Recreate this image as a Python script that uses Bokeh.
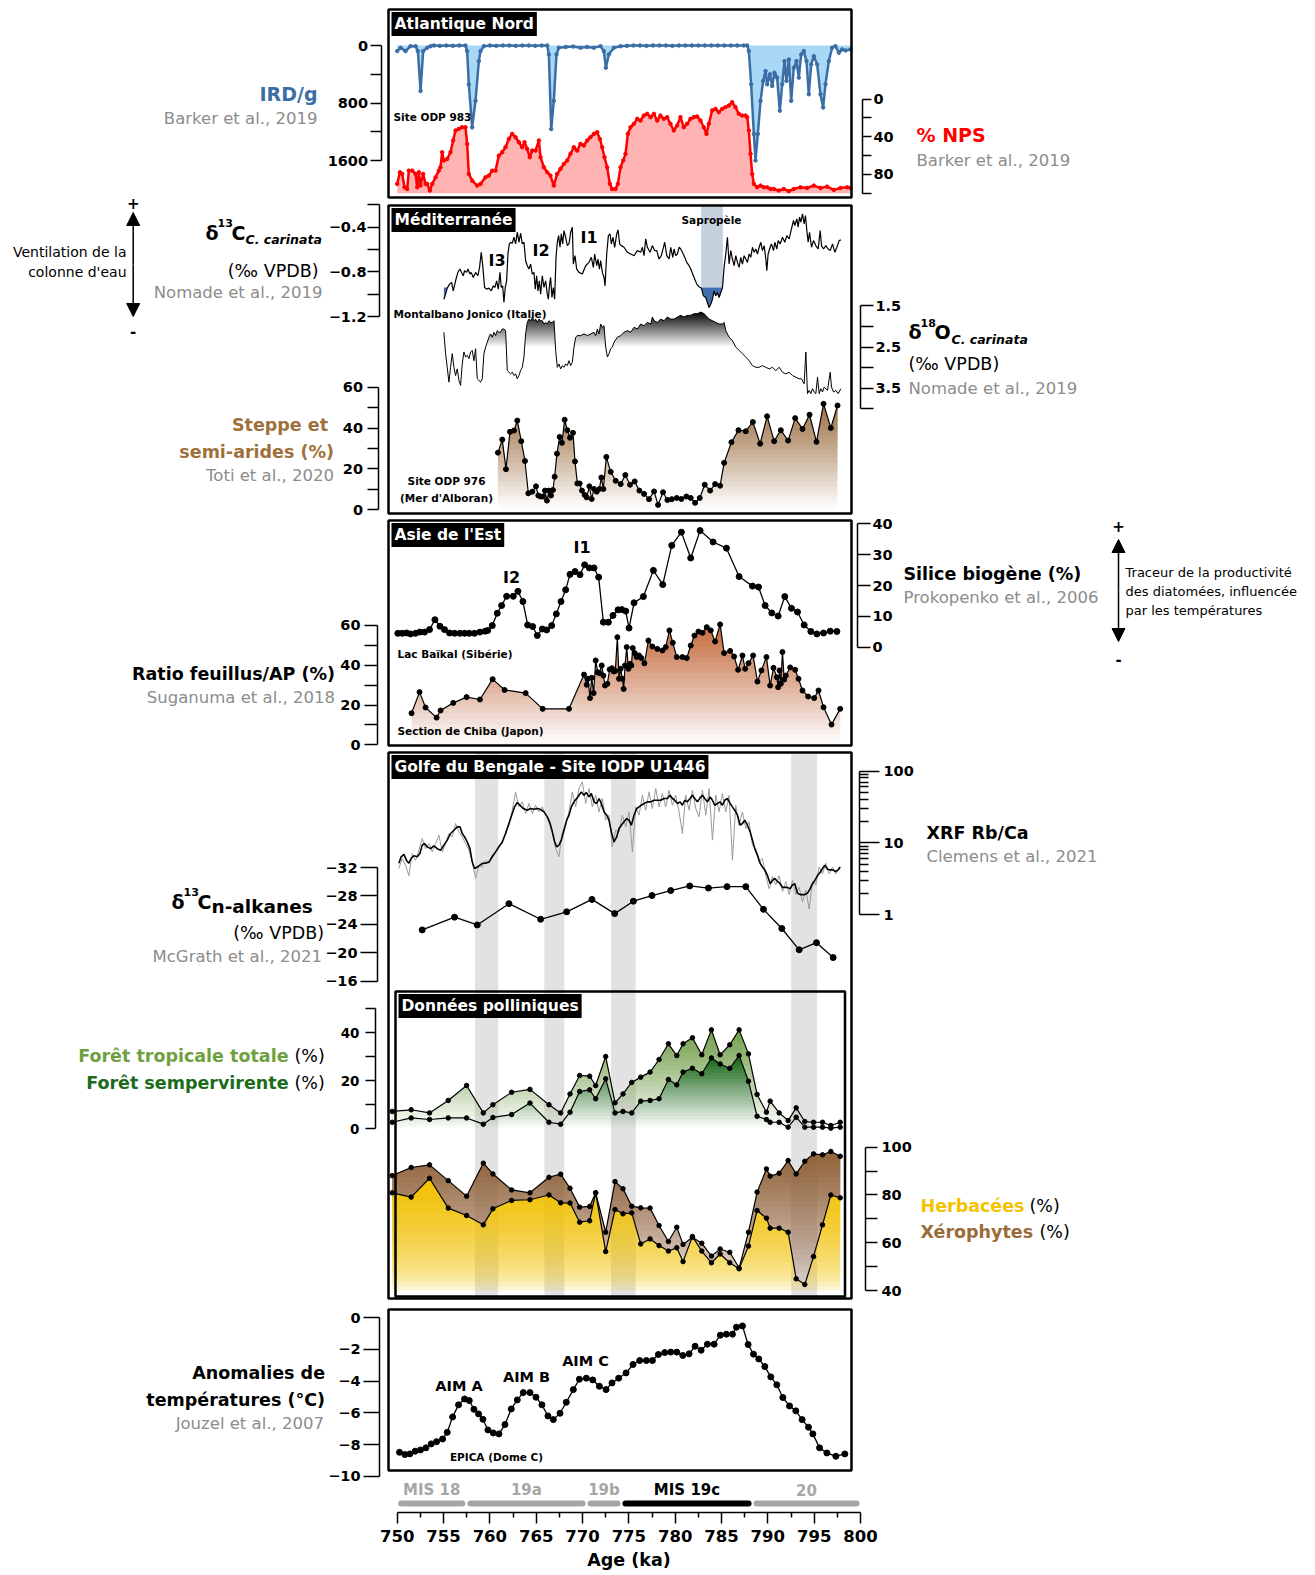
import numpy as np
from bokeh.plotting import figure
from bokeh.models import (Range1d, LinearAxis, LogAxis, LogScale, FixedTicker, Label,
                          BoxAnnotation, Arrow, NormalHead, BasicTickFormatter)
from bokeh.embed import file_html
from bokeh.resources import INLINE

# ------------------------------------------------------------------ data (age in ka, value)
ird = [(750.0, 78), (750.36, 32), (750.9, 78), (751.44, 9), (751.98, 9), (752.23, 78), (752.52, 632),
       (752.8, 78), (753.24, 32), (753.6, 9), (753.96, 0), (754.6, 5), (755.3, 0), (756.0, 5), (756.7, 0),
       (757.37, 0), (757.55, 78), (757.73, 540), (758.09, 1139), (758.45, 770), (758.81, 217), (758.99, 78),
       (759.35, 9), (760.0, 0), (760.7, 5), (761.4, 0), (762.1, 0), (762.8, 5), (763.5, 0), (764.2, 0),
       (764.9, 5), (765.6, 0), (766.19, 0), (766.37, 124), (766.62, 1162), (766.9, 770), (767.19, 124),
       (767.44, 32), (768.2, 20), (769.0, 15), (769.78, 32), (770.5, 20), (771.22, 32), (771.94, 9),
       (772.3, 78), (772.52, 309), (772.84, 124), (773.38, 32), (774.1, 10), (774.8, 5), (775.5, 0),
       (776.2, 0), (776.9, 5), (777.6, 0), (778.3, 0), (779.0, 0), (779.7, 5), (780.4, 0), (781.1, 0),
       (781.8, 0), (782.5, 0), (783.2, 0), (783.9, 0), (784.6, 0), (785.3, 0), (786.0, 0), (786.7, 0),
       (787.4, 0), (787.77, 0), (787.95, 78), (788.2, 540), (788.49, 1231), (788.67, 1600), (788.92, 1231),
       (789.21, 770), (789.5, 493), (789.75, 355), (789.93, 540), (790.22, 401), (790.47, 562), (790.72, 378),
       (791.0, 447), (791.29, 908), (791.55, 540), (791.8, 217), (792.01, 493), (792.27, 194), (792.52, 770),
       (792.8, 309), (793.09, 217), (793.34, 447), (793.6, 124), (793.88, 78), (794.17, 217), (794.42, 678),
       (794.68, 263), (794.96, 148), (795.32, 263), (795.68, 678), (795.97, 862), (796.22, 540),
       (796.58, 217), (796.94, 32), (797.3, 9), (797.66, 101), (798.02, 55), (798.38, 69), (798.92, 55)]

nps = [(750.0, 90.2), (750.29, 77.8), (750.54, 79.6), (750.79, 93.8), (751.08, 95.6), (751.26, 76.1),
       (751.62, 76.1), (751.98, 79.6), (752.16, 93.8), (752.34, 77.8), (752.52, 92.0), (752.8, 79.6),
       (753.06, 90.2), (753.24, 90.2), (753.52, 97.3), (753.78, 90.2), (754.14, 83.2), (754.49, 76.1),
       (754.67, 72.5), (754.85, 56.6), (755.03, 65.4), (755.39, 63.7), (755.75, 56.6), (756.04, 44.1),
       (756.29, 33.5), (756.65, 31.7), (757.01, 30.0), (757.37, 30.0), (757.55, 47.7), (757.73, 79.6),
       (758.09, 86.7), (758.63, 92.0), (758.99, 90.2), (759.53, 83.2), (759.89, 81.4), (760.25, 76.1),
       (760.61, 76.1), (760.97, 60.1), (761.33, 56.6), (761.69, 51.2), (762.05, 42.4), (762.41, 37.1),
       (762.77, 40.6), (763.13, 45.9), (763.49, 51.2), (763.74, 45.9), (764.03, 53.0), (764.31, 61.9),
       (764.57, 54.8), (764.93, 54.8), (765.29, 44.1), (765.47, 61.9), (765.83, 72.5), (766.19, 77.8),
       (766.54, 81.4), (766.9, 92.0), (767.26, 79.6), (767.62, 74.3), (767.98, 69.0), (768.34, 65.4),
       (768.7, 58.3), (769.06, 51.2), (769.42, 54.8), (769.78, 47.7), (770.14, 49.4), (770.5, 44.1),
       (770.86, 40.6), (771.22, 37.1), (771.58, 35.3), (771.87, 42.4), (772.12, 51.2), (772.37, 61.9),
       (772.66, 72.5), (772.95, 90.2), (773.2, 95.6), (773.56, 95.6), (773.81, 90.2), (774.1, 72.5),
       (774.39, 65.4), (774.64, 58.3), (774.89, 37.1), (775.18, 30.0), (775.54, 26.4), (775.9, 21.1),
       (776.26, 22.9), (776.62, 17.6), (776.98, 15.8), (777.34, 19.3), (777.7, 15.8), (778.06, 22.9),
       (778.41, 17.6), (778.77, 21.1), (779.13, 19.3), (779.49, 26.4), (779.85, 33.5), (780.21, 28.2),
       (780.57, 19.3), (780.93, 30.0), (781.29, 26.4), (781.65, 21.1), (782.01, 19.3), (782.37, 18.6),
       (782.73, 22.9), (783.09, 30.0), (783.38, 37.1), (783.63, 26.4), (783.99, 12.2), (784.35, 10.5),
       (784.71, 14.0), (785.07, 10.5), (785.43, 8.7), (785.79, 6.9), (786.15, 3.4), (786.51, 8.7),
       (786.87, 15.8), (787.23, 17.6), (787.59, 17.6), (787.77, 19.3), (787.95, 33.5), (788.13, 58.3),
       (788.31, 79.6), (788.49, 90.2), (788.85, 93.8), (789.21, 92.0), (789.57, 93.8), (789.93, 93.8),
       (790.29, 95.6), (790.64, 95.6), (791.18, 97.3), (791.72, 95.6), (792.26, 98.0), (792.8, 95.6),
       (793.52, 93.8), (794.24, 94.5), (794.96, 92.0), (795.68, 94.5), (796.4, 93.1), (797.12, 96.6),
       (797.84, 94.5), (798.56, 93.8), (798.92, 94.5)]

d13c_carinata = [
    (755.04, -1.045), (755.22, -1.0), (755.4, -0.946), (755.65, -0.91), (755.87, -0.895), (756.05, -0.97),
    (756.3, -0.88), (756.55, -0.805), (756.77, -0.775), (756.95, -0.805), (757.13, -0.835), (757.27, -0.79),
    (757.49, -0.805), (757.63, -0.775), (757.85, -0.82), (757.99, -0.805), (758.21, -0.85), (758.46, -0.805),
    (758.71, -0.835), (758.89, -0.76), (759.07, -0.625), (759.25, -0.76), (759.43, -0.94), (759.65, -0.955),
    (759.9, -0.946), (760.15, -0.97), (760.37, -0.925), (760.55, -0.94), (760.73, -0.88), (760.91, -0.955),
    (761.09, -0.805), (761.23, -0.94), (761.38, -0.925), (761.52, -1.075), (761.66, -0.94), (761.81, -0.88),
    (761.95, -0.64), (762.1, -0.55), (762.24, -0.535), (762.42, -0.544), (762.6, -0.49), (762.78, -0.55),
    (762.96, -0.445), (763.14, -0.535), (763.32, -0.454), (763.5, -0.55), (763.68, -0.535), (763.86, -0.7),
    (764.04, -0.745), (764.22, -0.775), (764.4, -0.73), (764.58, -0.82), (764.76, -0.805), (764.9, -0.955),
    (765.05, -0.835), (765.19, -0.97), (765.34, -0.88), (765.48, -1.0), (765.66, -0.835), (765.84, -0.94),
    (766.02, -0.88), (766.2, -1.0), (766.31, -1.045), (766.45, -0.91), (766.56, -0.85), (766.7, -1.03),
    (766.85, -0.94), (766.99, -1.045), (767.14, -0.67), (767.28, -0.535), (767.42, -0.475), (767.57, -0.58),
    (767.71, -0.46), (767.86, -0.55), (768.0, -0.43), (768.18, -0.49), (768.36, -0.565), (768.54, -0.55),
    (768.72, -0.445), (768.9, -0.4), (769.01, -0.73), (769.19, -0.655), (769.37, -0.775), (769.62, -0.805),
    (769.98, -0.82), (770.34, -0.745), (770.7, -0.715), (770.95, -0.67), (771.17, -0.76), (771.31, -0.64),
    (771.53, -0.745), (771.67, -0.685), (771.82, -0.775), (771.96, -0.7), (772.14, -0.805), (772.32, -0.85),
    (772.43, -0.925), (772.61, -0.64), (772.79, -0.475), (772.97, -0.46), (773.11, -0.55), (773.29, -0.49),
    (773.47, -0.58), (773.69, -0.46), (773.83, -0.424), (774.01, -0.55), (774.19, -0.565), (774.48, -0.58),
    (774.84, -0.625), (775.2, -0.64), (775.56, -0.655), (775.92, -0.61), (776.28, -0.625), (776.46, -0.58),
    (776.64, -0.655), (776.82, -0.505), (777.0, -0.58), (777.29, -0.625), (777.54, -0.565), (777.79, -0.61),
    (778.01, -0.61), (778.26, -0.685), (778.51, -0.655), (778.73, -0.58), (778.87, -0.535), (779.09, -0.655),
    (779.34, -0.685), (779.52, -0.58), (779.74, -0.67), (779.88, -0.595), (780.06, -0.655), (780.24, -0.64),
    (780.42, -0.58), (780.6, -0.595), (780.96, -0.655), (781.25, -0.715), (781.5, -0.745), (781.68, -0.775),
    (782.04, -0.85), (782.33, -0.91), (782.58, -0.934), (782.83, -0.946), (783.05, -1.015), (783.3, -1.03),
    (783.48, -1.075), (783.66, -1.12), (783.84, -1.09), (784.02, -1.045), (784.2, -0.97), (784.38, -1.015),
    (784.56, -0.985), (784.74, -1.03), (784.92, -0.985), (785.1, -0.946), (785.28, -0.76), (785.46, -0.64),
    (785.64, -0.49), (785.82, -0.73), (786.0, -0.61), (786.18, -0.685), (786.36, -0.745), (786.54, -0.655),
    (786.72, -0.715), (786.9, -0.76), (787.08, -0.67), (787.26, -0.73), (787.44, -0.655), (787.62, -0.685),
    (787.8, -0.715), (787.98, -0.64), (788.16, -0.67), (788.34, -0.58), (788.52, -0.625), (788.7, -0.595),
    (788.88, -0.64), (789.06, -0.58), (789.24, -0.535), (789.42, -0.61), (789.6, -0.565), (789.78, -0.685),
    (789.89, -0.79), (790.03, -0.64), (790.25, -0.58), (790.39, -0.55), (790.61, -0.61), (790.75, -0.535),
    (790.97, -0.595), (791.11, -0.52), (791.33, -0.55), (791.58, -0.49), (791.83, -0.535), (792.05, -0.475),
    (792.3, -0.505), (792.55, -0.415), (792.77, -0.34), (792.91, -0.385), (793.13, -0.325), (793.27, -0.4),
    (793.42, -0.31), (793.56, -0.355), (793.74, -0.28), (793.92, -0.37), (794.06, -0.295), (794.21, -0.43),
    (794.35, -0.535), (794.5, -0.445), (794.71, -0.58), (794.93, -0.52), (795.18, -0.565), (795.43, -0.595),
    (795.65, -0.43), (795.79, -0.565), (796.01, -0.595), (796.26, -0.565), (796.51, -0.595), (796.73, -0.61),
    (796.98, -0.55), (797.23, -0.625), (797.45, -0.58), (797.7, -0.52), (797.88, -0.514)]

d18o_carinata = [
    (755.04, 2.14), (755.22, 2.66), (755.4, 2.99), (755.58, 3.35), (755.76, 2.99), (755.94, 2.66),
    (756.12, 2.99), (756.3, 3.19), (756.48, 3.03), (756.66, 3.31), (756.84, 3.43), (757.02, 2.91),
    (757.2, 2.62), (757.38, 2.74), (757.56, 2.70), (757.74, 2.78), (757.92, 2.62), (758.1, 2.58),
    (758.28, 2.83), (758.46, 2.54), (758.64, 3.27), (758.82, 3.31), (759.0, 3.35), (759.18, 3.27),
    (759.36, 2.66), (759.54, 2.50), (759.72, 2.38), (759.9, 2.26), (760.08, 2.18), (760.26, 2.26),
    (760.44, 2.14), (760.62, 2.22), (760.8, 2.10), (760.98, 2.14), (761.16, 2.14), (761.34, 2.06),
    (761.52, 2.06), (761.7, 2.10), (761.88, 3.07), (762.06, 3.11), (762.24, 3.15), (762.42, 3.11),
    (762.6, 3.19), (762.78, 3.15), (762.96, 3.27), (763.14, 3.19), (763.32, 3.07), (763.5, 2.99),
    (763.68, 2.74), (763.86, 2.18), (764.04, 1.90), (764.22, 1.82), (764.4, 1.86), (764.58, 1.77),
    (764.76, 1.86), (764.94, 1.82), (765.12, 1.90), (765.3, 1.82), (765.48, 1.86), (765.66, 1.86),
    (765.84, 1.94), (766.02, 1.90), (766.2, 1.94), (766.38, 1.86), (766.56, 1.90), (766.74, 1.90),
    (766.92, 1.86), (767.1, 2.58), (767.28, 2.99), (767.46, 2.91), (767.64, 3.03), (767.82, 2.95),
    (768.0, 2.99), (768.18, 2.91), (768.36, 2.95), (768.54, 2.83), (768.72, 2.95), (768.9, 2.87),
    (769.08, 2.50), (769.26, 2.26), (769.44, 2.22), (769.8, 2.22), (770.16, 2.18), (770.52, 2.22),
    (770.88, 2.18), (771.24, 2.14), (771.42, 2.22), (771.6, 2.06), (771.78, 2.18), (771.96, 1.94),
    (772.14, 2.02), (772.32, 1.98), (772.5, 2.50), (772.68, 2.74), (772.86, 2.66), (773.04, 2.54),
    (773.22, 2.50), (773.4, 2.38), (773.76, 2.26), (774.12, 2.22), (774.48, 2.14), (774.84, 2.10),
    (775.2, 2.14), (775.56, 2.02), (775.92, 2.06), (776.28, 1.94), (776.64, 1.98), (777.0, 1.90),
    (777.36, 1.94), (777.54, 1.77), (777.72, 1.86), (778.08, 1.90), (778.44, 1.82), (778.8, 1.86),
    (779.16, 1.77), (779.52, 1.82), (779.88, 1.82), (780.24, 1.77), (780.6, 1.73), (780.96, 1.77),
    (781.32, 1.73), (781.68, 1.73), (782.04, 1.69), (782.4, 1.69), (782.76, 1.65), (783.12, 1.69),
    (783.3, 1.73), (783.66, 1.82), (784.02, 1.86), (784.38, 1.90), (784.74, 1.94), (785.1, 1.94),
    (785.28, 1.90), (785.46, 2.10), (785.82, 2.26), (786.18, 2.34), (786.54, 2.50), (786.9, 2.58),
    (787.26, 2.66), (787.62, 2.74), (787.98, 2.83), (788.34, 2.95), (788.7, 2.99), (789.06, 2.99),
    (789.42, 2.95), (789.78, 2.99), (790.14, 3.03), (790.5, 2.99), (790.86, 3.07), (791.22, 2.99),
    (791.58, 3.11), (791.94, 3.15), (792.3, 3.11), (792.66, 3.19), (793.02, 3.23), (793.38, 3.27),
    (793.63, 3.27), (793.92, 3.39), (794.1, 2.62), (794.28, 3.63), (794.46, 3.55), (794.64, 3.63),
    (794.82, 3.51), (795.0, 3.59), (795.18, 3.63), (795.36, 3.23), (795.54, 3.63), (795.72, 3.51),
    (795.9, 3.59), (796.08, 3.47), (796.44, 3.55), (796.73, 3.11), (796.87, 3.47), (797.09, 3.59),
    (797.34, 3.55), (797.59, 3.63), (797.88, 3.51)]

steppe = [(760.87, 28.0), (761.34, 34.4), (761.74, 19.9), (762.17, 38.2), (762.6, 38.8), (762.96, 43.7),
          (763.39, 33.6), (763.79, 23.9), (764.15, 8.1), (764.58, 8.9), (764.98, 11.5), (765.23, 7.0),
          (765.48, 6.5), (765.73, 6.5), (765.95, 9.4), (766.16, 4.5), (766.38, 9.4), (766.6, 7.0),
          (766.81, 9.7), (766.99, 16.2), (767.24, 27.5), (767.53, 35.7), (767.78, 32.8), (768.07, 44.1),
          (768.36, 39.0), (768.65, 35.3), (768.97, 37.7), (769.19, 23.7), (769.44, 12.9), (769.69, 12.9),
          (769.94, 9.4), (770.23, 7.3), (770.45, 6.1), (770.74, 11.5), (770.99, 5.3), (771.24, 10.2),
          (771.53, 8.9), (771.82, 10.2), (772.03, 15.8), (772.25, 10.2), (772.57, 25.9), (773.04, 18.6),
          (773.58, 14.2), (774.12, 12.6), (774.62, 17.0), (775.13, 12.3), (775.63, 13.9), (776.14, 9.4),
          (776.64, 7.8), (777.18, 5.2), (777.72, 9.0), (778.15, 2.4), (778.69, 8.6), (779.16, 4.8),
          (779.63, 5.2), (780.17, 5.8), (780.67, 5.3), (781.21, 6.5), (781.68, 5.8), (782.15, 3.4),
          (782.65, 5.8), (783.19, 12.3), (783.77, 9.4), (784.31, 12.6), (784.85, 11.8), (785.28, 23.0),
          (786.07, 33.1), (786.83, 39.0), (787.62, 38.5), (788.38, 43.0), (789.17, 32.4), (789.92, 45.8),
          (790.68, 33.6), (791.4, 39.0), (792.19, 33.9), (792.95, 44.9), (793.74, 39.6), (794.5, 46.6),
          (795.25, 33.3), (796.01, 51.9), (796.8, 40.1), (797.52, 51.1)]

silice = [(750.07, 4.5), (750.54, 4.5), (751.01, 4.6), (751.44, 4.3), (751.98, 4.5), (752.45, 4.9),
          (752.95, 4.9), (753.49, 5.7), (754.07, 8.9), (754.61, 6.8), (755.11, 5.7), (755.65, 4.6),
          (756.19, 4.5), (756.77, 4.5), (757.27, 4.5), (757.78, 4.5), (758.35, 4.5), (758.93, 4.9),
          (759.5, 5.2), (759.76, 5.4), (760.26, 7.0), (760.8, 11.0), (761.27, 13.5), (761.81, 16.5),
          (762.53, 16.5), (763.03, 18.1), (763.57, 14.8), (764.08, 7.2), (764.62, 6.7), (765.12, 3.8),
          (765.66, 5.9), (766.13, 5.6), (766.67, 7.0), (767.17, 10.8), (767.68, 14.8), (768.18, 18.6),
          (768.65, 23.6), (769.19, 24.5), (769.73, 23.5), (770.23, 26.7), (770.74, 25.7), (771.24, 25.7),
          (771.74, 22.7), (772.25, 8.1), (772.79, 8.1), (773.29, 10.3), (773.83, 12.1), (774.23, 12.2),
          (774.66, 11.7), (775.02, 6.2), (775.56, 14.4), (776.57, 16.4), (777.65, 24.9), (778.66, 20.3),
          (779.63, 33.0), (780.67, 37.3), (781.68, 28.9), (782.69, 37.8), (784.09, 34.1), (785.53, 32.1),
          (786.9, 22.9), (788.34, 19.8), (788.99, 19.5), (789.71, 13.5), (790.43, 11.1), (791.11, 10.1),
          (791.83, 16.4), (792.55, 12.6), (793.2, 11.4), (793.92, 7.2), (794.64, 5.1), (795.29, 4.3),
          (796.01, 4.6), (796.73, 5.2), (797.45, 5.1)]

feuillus = [(751.55, 15.9), (752.41, 26.5), (753.06, 18.8), (754.25, 13.7), (754.68, 17.3), (756.05, 21.1),
            (757.49, 24.0), (758.93, 22.8), (760.3, 33.0), (761.59, 27.6), (763.86, 26.0), (765.7, 18.1),
            (768.54, 18.1), (770.16, 35.3), (770.45, 30.2), (770.59, 33.2), (770.81, 23.5), (770.99, 33.7),
            (771.2, 26.0), (771.42, 42.4), (771.64, 36.5), (771.82, 36.0), (772.07, 39.9), (772.25, 34.8),
            (772.43, 29.8), (772.68, 30.7), (772.93, 37.9), (773.18, 38.5), (773.36, 36.9), (773.54, 37.2),
            (773.76, 54.1), (773.94, 33.2), (774.12, 38.2), (774.3, 33.2), (774.44, 28.1), (774.59, 39.9),
            (774.77, 49.1), (774.95, 38.2), (775.13, 40.7), (775.27, 39.9), (775.42, 48.6), (775.63, 46.1),
            (775.85, 44.1), (776.1, 44.9), (776.35, 43.6), (776.68, 41.0), (777.11, 52.4), (777.54, 49.4),
            (778.08, 48.2), (778.62, 47.4), (778.98, 49.1), (779.38, 57.5), (779.74, 51.3), (780.17, 44.1),
            (780.78, 44.1), (781.25, 43.6), (781.68, 49.9), (782.08, 54.9), (782.51, 56.9), (782.94, 56.3),
            (783.41, 59.1), (783.84, 57.5), (784.31, 51.9), (784.85, 60.5), (785.28, 46.1), (785.93, 47.2),
            (786.36, 44.4), (786.79, 37.7), (787.26, 44.9), (787.55, 38.2), (787.91, 41.0), (788.41, 44.9),
            (788.88, 31.8), (789.31, 37.4), (789.85, 44.1), (790.25, 29.8), (790.61, 38.7), (790.97, 34.0),
            (791.11, 29.0), (791.26, 37.4), (791.4, 30.7), (791.58, 46.6), (791.76, 32.8), (791.94, 34.8),
            (792.41, 38.9), (792.95, 37.7), (793.31, 33.2), (793.74, 27.3), (794.35, 24.3), (795.0, 23.5),
            (795.47, 27.3), (796.01, 18.9), (796.87, 10.2), (797.81, 18.1)]

xrf_raw = [(750.18, 4.4), (750.54, 6.1), (750.9, 4.9), (751.26, 3.5), (751.62, 7.1), (751.98, 5.7),
           (752.34, 7.9), (752.7, 11.5), (753.06, 8.3), (753.42, 9.8), (753.78, 7.5), (754.14, 9.8),
           (754.5, 12.8), (754.86, 7.5), (755.22, 9.8), (755.58, 13.5), (755.94, 12.1), (756.3, 18.6),
           (756.66, 14.2), (757.02, 12.1), (757.38, 9.8), (757.74, 7.9), (758.1, 5.4), (758.46, 3.2),
           (758.82, 4.9), (759.18, 4.6), (759.54, 5.7), (759.9, 5.2), (760.26, 6.7), (760.62, 7.5),
           (760.98, 9.3), (761.34, 9.8), (761.7, 14.2), (762.06, 17.6), (762.42, 28.5), (762.78, 51.2),
           (763.14, 31.7), (763.5, 37.2), (763.86, 25.6), (764.22, 35.3), (764.58, 25.6), (764.94, 33.4),
           (765.3, 27.0), (765.66, 31.7), (766.02, 24.3), (766.38, 21.8), (766.74, 15.0), (767.1, 8.3),
           (767.46, 6.4), (767.82, 14.2), (768.18, 17.6), (768.54, 27.0), (768.9, 51.2), (769.26, 31.7),
           (769.62, 57.0), (769.98, 70.6), (770.34, 35.3), (770.7, 57.0), (771.06, 31.7), (771.42, 46.0),
           (771.78, 27.0), (772.14, 41.4), (772.5, 20.7), (772.86, 24.3), (773.22, 8.8), (773.58, 15.0),
           (773.94, 14.2), (774.3, 24.3), (774.66, 16.7), (775.02, 27.0), (775.38, 7.5), (775.74, 31.7),
           (776.1, 24.3), (776.46, 46.0), (776.82, 28.5), (777.18, 51.2), (777.54, 30.0), (777.9, 57.0),
           (778.26, 31.7), (778.62, 48.5), (778.98, 31.7), (779.34, 54.0), (779.7, 33.4), (780.06, 46.0),
           (780.42, 27.0), (780.78, 13.5), (781.14, 46.0), (781.5, 28.5), (781.86, 54.0), (782.22, 30.0),
           (782.58, 23.0), (782.94, 54.0), (783.3, 24.3), (783.66, 57.0), (784.02, 10.9), (784.38, 46.0),
           (784.74, 27.0), (785.1, 48.5), (785.46, 27.0), (785.82, 46.0), (786.18, 5.7), (786.54, 33.4),
           (786.9, 17.6), (787.26, 27.0), (787.62, 15.8), (787.98, 19.6), (788.34, 9.3), (788.7, 8.3),
           (789.06, 5.4), (789.42, 6.1), (789.78, 3.5), (790.14, 2.3), (790.5, 3.4), (790.86, 2.6),
           (791.22, 3.5), (791.58, 2.1), (791.94, 2.9), (792.3, 1.9), (792.66, 3.0), (793.02, 1.9),
           (793.38, 2.4), (793.74, 1.5), (794.1, 2.2), (794.46, 1.2), (794.82, 2.9), (795.18, 2.6),
           (795.54, 4.6), (795.9, 3.7), (796.26, 5.2), (796.62, 3.7), (796.98, 4.6), (797.34, 3.7),
           (797.7, 4.6)]

xrf_smooth = [(750.18, 5.2), (750.43, 6.4), (750.72, 6.9), (751.01, 5.7), (751.26, 5.2), (751.51, 6.1),
              (751.8, 6.6), (752.16, 6.4), (752.45, 7.1), (752.7, 9.3), (752.95, 9.8), (753.24, 8.8),
              (753.6, 8.3), (753.96, 9.1), (754.32, 8.3), (754.68, 7.9), (755.04, 9.3), (755.4, 10.9),
              (755.76, 13.5), (756.12, 15.0), (756.48, 16.7), (756.77, 16.7), (757.02, 13.5), (757.27, 12.1),
              (757.56, 10.3), (757.85, 8.3), (758.1, 5.4), (758.35, 4.4), (758.64, 4.6), (758.93, 4.9),
              (759.22, 5.2), (759.54, 5.2), (759.9, 5.4), (760.26, 6.4), (760.62, 7.5), (760.98, 8.8),
              (761.34, 10.3), (761.7, 13.5), (762.06, 18.6), (762.42, 25.6), (762.67, 31.7), (762.96, 36.4),
              (763.25, 33.4), (763.61, 30.0), (764.04, 28.5), (764.4, 30.0), (764.76, 29.4), (765.12, 30.0),
              (765.48, 29.1), (765.84, 27.0), (766.2, 23.0), (766.49, 18.6), (766.74, 14.2), (766.99, 10.3),
              (767.21, 8.8), (767.46, 9.3), (767.71, 10.9), (768.0, 15.0), (768.29, 20.7), (768.54, 24.3),
              (768.79, 31.7), (769.08, 37.2), (769.37, 41.4), (769.62, 46.0), (769.87, 51.2), (770.16, 46.0),
              (770.41, 50.1), (770.7, 43.6), (770.95, 48.5), (771.24, 37.2), (771.53, 35.3), (771.78, 41.4),
              (772.03, 35.3), (772.32, 27.0), (772.61, 24.3), (772.86, 20.7), (773.11, 14.2), (773.4, 10.3),
              (773.69, 12.1), (773.94, 15.8), (774.19, 17.6), (774.48, 19.6), (774.77, 21.8), (775.02, 20.7),
              (775.27, 17.6), (775.56, 24.3), (775.85, 30.0), (776.1, 31.7), (776.35, 33.4), (776.64, 35.3),
              (777.0, 37.2), (777.36, 37.2), (777.72, 39.2), (778.08, 39.2), (778.44, 39.2), (778.8, 41.4),
              (779.16, 41.4), (779.45, 46.0), (779.7, 41.4), (779.95, 39.2), (780.24, 35.3), (780.53, 37.2),
              (780.78, 33.4), (781.03, 39.2), (781.32, 37.2), (781.61, 41.4), (781.86, 46.0), (782.11, 41.4),
              (782.4, 37.2), (782.69, 42.3), (782.94, 46.0), (783.19, 41.4), (783.48, 37.2), (783.77, 43.6),
              (784.02, 39.2), (784.27, 33.4), (784.56, 35.3), (784.85, 37.2), (785.1, 33.4), (785.35, 39.2),
              (785.64, 41.4), (785.93, 35.3), (786.18, 31.7), (786.43, 28.5), (786.72, 24.3), (787.01, 17.6),
              (787.26, 18.6), (787.51, 20.7), (787.8, 17.6), (788.09, 14.2), (788.34, 10.9), (788.59, 8.3),
              (788.88, 6.7), (789.17, 5.2), (789.42, 4.6), (789.67, 4.2), (789.96, 3.5), (790.25, 2.7),
              (790.5, 3.0), (790.75, 3.2), (791.04, 2.9), (791.33, 2.7), (791.58, 2.4), (791.83, 2.4),
              (792.12, 2.4), (792.41, 2.3), (792.66, 2.6), (792.91, 2.7), (793.2, 2.0), (793.49, 1.9),
              (793.74, 1.9), (793.99, 1.9), (794.28, 2.0), (794.57, 2.3), (794.82, 2.7), (795.07, 3.0),
              (795.36, 3.5), (795.65, 3.9), (795.9, 4.4), (796.15, 4.9), (796.44, 4.3), (796.73, 4.2),
              (797.02, 4.2), (797.3, 4.0), (797.59, 4.2), (797.81, 4.6)]

d13c_alkanes = [(752.7, -23.2), (756.19, -25.0), (758.64, -23.9), (762.06, -26.9), (765.48, -24.7),
                (768.29, -25.75), (771.02, -27.5), (773.47, -25.5), (775.49, -27.25), (777.5, -28.05),
                (779.52, -28.75), (781.57, -29.4), (783.59, -29.1), (785.6, -29.3), (787.62, -29.3),
                (789.53, -26.1), (791.51, -23.4), (793.38, -20.4), (795.25, -21.4), (797.05, -19.3)]

pollen_age = [749.46, 751.51, 753.49, 755.51, 757.49, 759.29, 760.33, 762.35, 764.33, 766.38,
              767.64, 768.65, 769.69, 770.77, 771.42, 772.5, 773.51, 774.37, 775.31, 776.28,
              777.29, 778.26, 779.27, 780.17, 780.85, 781.86, 782.87, 783.91, 784.85, 785.89,
              786.9, 787.91, 788.84, 789.85, 790.25, 791.22, 792.19, 793.06, 793.99, 794.93,
              795.9, 796.8, 797.81]
foret_totale = [7.1, 7.8, 6.5, 11.7, 17.9, 6.5, 9.9, 15.1, 16.3, 9.9,
                6.5, 14.4, 22.1, 21.8, 17.9, 30.0, 10.7, 14.4, 19.2, 21.4,
                23.5, 28.75, 35.3, 30.4, 35.3, 37.8, 30.7, 41.1, 30.7, 34.9,
                41.1, 31.1, 14.2, 6.8, 11.4, 6.5, 3.3, 8.6, 2.9, 2.6,
                2.6, 1.25, 2.6]
foret_sempervirente = [2.6, 4.4, 3.75, 4.4, 4.4, 1.8, 4.6, 5.8, 10.6, 2.6,
                       1.8, 6.8, 15.4, 16.1, 12.4, 20.7, 6.5, 7.1, 6.5, 11.4,
                       11.7, 12.4, 20.4, 18.2, 23.5, 25.1, 22.8, 29.4, 26.9, 25.1,
                       30.4, 19.7, 5.1, 3.75, 2.6, 2.6, 0.55, 4.7, 0.55, 0.55,
                       0.55, 0.15, 0.55]
xerophytes = [88.1, 91.5, 92.6, 86.0, 79.5, 93.3, 88.8, 82.1, 80.9, 87.4,
              88.7, 82.8, 74.9, 75.2, 80.9, 64.4, 85.6, 82.6, 75.3, 74.6,
              74.5, 67.2, 60.5, 66.5, 59.3, 62.3, 59.8, 54.4, 57.4, 56.0,
              49.4, 64.4, 81.2, 90.9, 87.9, 89.1, 94.4, 88.8, 94.1, 97.2,
              96.8, 98.2, 96.2]
herbacees = [80.9, 79.1, 87.0, 74.5, 71.4, 67.5, 74.2, 77.7, 78.0, 80.0,
             76.7, 76.6, 68.6, 69.2, 80.9, 56.3, 73.9, 72.1, 72.5, 59.5,
             61.6, 58.8, 56.5, 57.9, 52.1, 62.6, 56.5, 51.6, 55.3, 51.6,
             49.1, 58.6, 73.5, 70.3, 66.1, 66.1, 64.4, 44.9, 42.5, 54.2,
             67.5, 80.0, 78.8]

temperature = [(750.25, -8.49), (750.83, -8.63), (751.37, -8.59), (751.94, -8.42), (752.52, -8.34),
               (753.1, -8.21), (753.67, -7.96), (754.25, -7.82), (754.9, -7.65), (755.4, -7.23),
               (755.98, -6.26), (756.62, -5.50), (757.27, -5.13), (757.78, -5.23), (758.28, -5.78),
               (758.78, -6.07), (759.25, -6.41), (759.79, -7.08), (760.37, -7.27), (760.98, -7.33),
               (761.63, -6.74), (762.31, -5.76), (762.96, -5.19), (763.61, -4.73), (764.33, -4.73),
               (764.98, -5.02), (765.62, -5.50), (766.27, -6.20), (766.85, -6.43), (767.57, -6.03),
               (768.25, -5.34), (769.01, -4.54), (769.66, -3.89), (770.41, -3.82), (771.1, -3.93),
               (771.82, -4.33), (772.54, -4.54), (773.18, -4.12), (773.9, -3.82), (774.7, -3.49),
               (775.45, -2.96), (776.17, -2.71), (776.89, -2.71), (777.54, -2.71), (778.19, -2.33),
               (778.87, -2.21), (779.52, -2.18), (780.17, -2.18), (780.82, -2.39), (781.5, -2.29),
               (782.15, -1.81), (782.8, -2.06), (783.48, -1.68), (784.2, -1.68), (784.88, -1.11),
               (785.53, -1.05), (786.18, -1.05), (786.61, -0.61), (787.26, -0.53), (787.87, -1.70),
               (788.45, -2.31), (789.02, -2.61), (789.67, -3.09), (790.32, -3.74), (790.97, -4.24),
               (791.62, -5.04), (792.34, -5.57), (793.02, -5.88), (793.7, -6.43), (794.39, -6.91),
               (794.86, -7.33), (795.58, -8.21), (796.37, -8.53), (797.34, -8.74), (798.31, -8.59)]

grey_band_start = [758.39, 765.88, 773.08, 792.52]
grey_band_end = [760.91, 768.04, 775.74, 795.32]
sapropel_start, sapropel_end = 782.8, 785.14
sapropel_threshold = -0.94
mis_bounds = [750, 757.46, 770.43, 774.2, 788.35, 800]
mis_names = ["MIS 18", "19a", "19b", "MIS 19c", "20"]
mis_current = "MIS 19c"
age_ticks = list(range(750, 801, 5))

# ------------------------------------------------------------------ page geometry
FONT = "DejaVu Sans"
GREY = "#8c8c8c"
PT, PB = 0, 1571            # page y of canvas top / bottom
PL, PR = 0, 1310            # page x of canvas left / right
X750, PXKA = 396.7, 9.266   # page x of 750 ka, pixels per ka


def xy(pairs):
    a = np.asarray(pairs, dtype=float)
    return a[:, 0], a[:, 1]


def lin_rng(v1, y1, v2, y2):
    k = (v2 - v1) / (y2 - y1)
    return Range1d(start=v1 + (PB - y1) * k, end=v1 + (PT - y1) * k)


def log_rng(v1, y1, v2, y2):
    l1, l2 = np.log10(v1), np.log10(v2)
    k = (l2 - l1) / (y2 - y1)
    return Range1d(start=10 ** (l1 + (PB - y1) * k), end=10 ** (l1 + (PT - y1) * k))


p = figure(width=PR - PL, height=PB - PT,
           x_range=Range1d(750 + (PL - X750) / PXKA, 750 + (PR - X750) / PXKA),
           y_range=Range1d(PB, PT), x_axis_type=None, y_axis_type=None, title=None,
           toolbar_location=None, output_backend="svg", min_border=0)
p.outline_line_color = None
p.background_fill_color = "white"
p.border_fill_color = "white"
p.extra_x_ranges = {"px": Range1d(PL, PR)}
p.extra_y_ranges = {
    "ird": lin_rng(0, 45, 1600, 160),
    "nps": lin_rng(0, 98.5, 80, 173.8),
    "d13": lin_rng(-0.4, 226.7, -1.2, 316),
    "d18": lin_rng(1.5, 305.4, 3.5, 387.8),
    "stp": lin_rng(0, 509.3, 60, 386.8),
    "sil": lin_rng(0, 646.7, 40, 523.3),
    "feu": lin_rng(0, 744.4, 60, 624.9),
    "xrf": log_rng(1, 914.2, 100, 770.5),
    "alk": lin_rng(-32, 867, -16, 980.5),
    "for": lin_rng(0, 1128, 40, 1032),
    "hrb": lin_rng(40, 1290, 100, 1146.7),
    "tmp": lin_rng(0, 1317, -10, 1475.8),
}
p.extra_y_scales = {"xrf": LogScale()}


def dense(x, v, step=0.03):
    x = np.asarray(x, float)
    v = np.asarray(v, float)
    xs = np.union1d(np.arange(x[0], x[-1], step), x)
    return xs, np.interp(xs, x, v)


def grad_fill(x, upper, lower, base, dark, color, yname, n=24, gamma=1.0):
    """Area between two curves, colour fading (alpha) from `dark` level to `base` level."""
    xs, us = dense(x, upper)
    if np.isscalar(lower):
        ls = np.full_like(xs, float(lower))
    else:
        ls = dense(x, lower)[1]
    levels = np.linspace(base, dark, n + 1)
    up = dark > base
    prev = 0.0
    for k in range(n):
        t = levels[k]
        target = min(((k + 0.5) / n) ** gamma, 0.995)
        a = 1 - (1 - target) / (1 - prev)
        prev = target
        if up:
            y1, y2 = np.maximum(ls, t), np.maximum(us, t)
        else:
            y1, y2 = np.minimum(ls, t), np.minimum(us, t)
        p.varea(x=xs, y1=y1, y2=y2, fill_color=color, fill_alpha=a, y_range_name=yname)


def style_axis(ax, size, tick, minor_tick=None, standoff=3):
    ax.axis_line_color = "black"
    ax.axis_line_width = 1.5
    ax.major_tick_line_color = "black"
    ax.major_tick_line_width = 1.5
    ax.minor_tick_line_color = "black"
    ax.minor_tick_line_width = 1.5
    ax.major_tick_in = 0
    ax.minor_tick_in = 0
    ax.major_tick_out = tick
    ax.minor_tick_out = tick if minor_tick is None else minor_tick
    ax.major_label_text_font = FONT
    ax.major_label_text_font_style = "bold"
    ax.major_label_text_font_size = f"{size}px"
    ax.major_label_text_color = "black"
    ax.major_label_standoff = standoff


def add_yaxis(side, rname, loc, bounds, major, minor=(), size=14.5, tick=11, standoff=2,
              minor_tick=None, log=False):
    cls = LogAxis if log else LinearAxis
    ax = cls(x_range_name="px", y_range_name=rname, fixed_location=loc, bounds=bounds,
             ticker=FixedTicker(ticks=list(major), minor_ticks=list(minor)))
    if log:
        ax.formatter = BasicTickFormatter()
    style_axis(ax, size, tick, minor_tick, standoff)
    p.add_layout(ax, side)


def T(x, y, s, size=14, color="black", style="normal", align="left", baseline="middle",
      bg=None, pad=0):
    lab = Label(x=x, y=y, x_range_name="px", text=s, text_font=FONT,
                text_font_size=f"{size}px", text_font_style=style, text_color=color,
                text_align=align, text_baseline=baseline)
    if bg is not None:
        lab.background_fill_color = bg
        lab.padding = pad
    p.add_layout(lab)


def box(l, r, t, b, w=2.5):
    p.add_layout(BoxAnnotation(left=l, right=r, top=t, bottom=b, x_range_name="px",
                               fill_color=None, fill_alpha=0, line_color="black",
                               line_width=w, line_alpha=1))


def title_box(x, y, s):
    T(x + 3, y + 2.5, s, 15.5, "white", "bold", "left", "top", bg="black", pad=3)


def dots(x, v, yname, size=5, color="black"):
    p.scatter(x, v, size=size, color=color, y_range_name=yname)


# ------------------------------------------------------------------ panel 1 : Atlantique Nord
a, v = xy(ird)
p.varea(x=a, y1=np.zeros_like(v), y2=v, fill_color="#a9d8f7", y_range_name="ird")
a2, v2 = xy(nps)
p.varea(x=a2, y1=v2, y2=np.full_like(v2, 100.0), fill_color="#ffb3b3", y_range_name="nps")
p.line(a, v, line_color="#3a6ea5", line_width=2.5, y_range_name="ird")
dots(a, v, "ird", 3.5, "#3a6ea5")
p.line(a2, v2, line_color="#ff0000", line_width=2.5, y_range_name="nps")
dots(a2, v2, "nps", 3.5, "#ff0000")

# ------------------------------------------------------------------ panel 2 : Méditerranée
p.quad(left=[sapropel_start], right=[sapropel_end], top=[206], bottom=[287],
       fill_color="#c6d1de", line_color=None)
a, v = xy(d13c_carinata)
xs, vs = dense(a, v)
mask = ((xs <= a[0] + 0.45) | ((xs >= sapropel_start) & (xs <= sapropel_end)))
p.varea(x=xs, y1=np.full_like(xs, sapropel_threshold),
        y2=np.where(mask, np.minimum(vs, sapropel_threshold), sapropel_threshold),
        fill_color="#3f70ad", y_range_name="d13")
p.line(a, v, line_color="black", line_width=1.2, y_range_name="d13")

a, v = xy(d18o_carinata)
grad_fill(a, v, 2.5, 2.5, 1.62, "#000000", "d18", n=26)
p.line(a, v, line_color="black", line_width=1.0, y_range_name="d18")

a, v = xy(steppe)
grad_fill(a, v, 0, 0, 55, "#9a6a3a", "stp")
p.line(a, v, line_color="black", line_width=1.2, y_range_name="stp")
dots(a, v, "stp", 5)

# ------------------------------------------------------------------ panel 3 : Asie de l'Est
a, v = xy(feuillus)
grad_fill(a, v, 0, 0, 62, "#c5673a", "feu")
p.line(a, v, line_color="black", line_width=1.2, y_range_name="feu")
dots(a, v, "feu", 5)
a, v = xy(silice)
p.line(a, v, line_color="black", line_width=1.3, y_range_name="sil")
dots(a, v, "sil", 6)

# ------------------------------------------------------------------ panel 4 : Golfe du Bengale
p.quad(left=grey_band_start, right=grey_band_end, top=753, bottom=1297,
       fill_color="#e2e2e2", line_color=None)
a, v = xy(xrf_raw)
p.line(a, v, line_color="#9a9a9a", line_width=1.0, y_range_name="xrf")
a, v = xy(xrf_smooth)
p.line(a, v, line_color="black", line_width=1.6, y_range_name="xrf")
a, v = xy(d13c_alkanes)
p.line(a, v, line_color="black", line_width=1.3, y_range_name="alk")
dots(a, v, "alk", 6)

grad_fill(pollen_age, foret_totale, foret_sempervirente, 0, 42, "#6e9f45", "for")
grad_fill(pollen_age, foret_sempervirente, 0, 0, 31, "#0e600e", "for")
for ser in (foret_totale, foret_sempervirente):
    p.line(pollen_age, ser, line_color="black", line_width=1.2, y_range_name="for")
    dots(pollen_age, ser, "for", 4.5)

grad_fill(pollen_age, xerophytes, herbacees, 40, 100, "#8f6035", "hrb", gamma=0.7)
grad_fill(pollen_age, herbacees, 40, 40, 88, "#f2c200", "hrb", gamma=0.45)
for ser in (xerophytes, herbacees):
    p.line(pollen_age, ser, line_color="black", line_width=1.2, y_range_name="hrb")
    dots(pollen_age, ser, "hrb", 4.5)

# ------------------------------------------------------------------ panel 5 : EPICA
a, v = xy(temperature)
p.line(a, v, line_color="black", line_width=1.3, y_range_name="tmp")
dots(a, v, "tmp", 6)

# ------------------------------------------------------------------ MIS bar
gap = 4.0 / PXKA
mis_lo = [b + gap for b in mis_bounds[:-1]]
mis_hi = [b - gap for b in mis_bounds[1:]]
mis_col = ["black" if n == mis_current else "#a6a6a6" for n in mis_names]
p.segment(x0=mis_lo, y0=[1503] * 5, x1=mis_hi, y1=[1503] * 5, line_color=mis_col,
          line_width=6, line_cap="round")
for lo, hi, name, col in zip(mis_bounds[:-1], mis_bounds[1:], mis_names, mis_col):
    p.add_layout(Label(x=(lo + hi) / 2, y=1489, text=name, text_font=FONT, text_font_size="15px",
                       text_font_style="bold", text_color=col, text_align="center",
                       text_baseline="middle"))

# ------------------------------------------------------------------ axes
add_yaxis("left", "ird", 380.5, (0, 1600), [0, 800, 1600], [400, 1200], tick=11)
add_yaxis("right", "nps", 862, (0, 100), [0, 40, 80], [20, 60, 100], tick=9)
add_yaxis("left", "d13", 379, (-1.2, -0.2), [-0.4, -0.8, -1.2], [-0.2, -0.6, -1.0], tick=12,
          standoff=1)
add_yaxis("right", "d18", 860, (1.5, 4.0), [1.5, 2.5, 3.5], [2.0, 3.0, 4.0], tick=13)
add_yaxis("left", "stp", 377.5, (0, 60), [0, 20, 40, 60], [10, 30, 50], tick=11, standoff=4)
add_yaxis("right", "sil", 857, (0, 40), [0, 10, 20, 30, 40], tick=13)
add_yaxis("left", "feu", 377, (0, 60), [0, 20, 40, 60], [10, 30, 50], tick=13, standoff=4)
add_yaxis("right", "xrf", 859, (1, 100), [1, 10, 100],
          [2, 3, 4, 5, 6, 7, 8, 9, 20, 30, 40, 50, 60, 70, 80, 90], tick=20, minor_tick=9,
          standoff=4, log=True)
add_yaxis("left", "alk", 377, (-32, -16), [-32, -28, -24, -20, -16], tick=17, standoff=3)
add_yaxis("left", "for", 375, (0, 50), [0, 20, 40], [10, 30, 50], size=13.5, tick=10, standoff=6)
add_yaxis("right", "hrb", 865, (40, 100), [40, 60, 80, 100], [50, 70, 90], tick=12, standoff=4)
add_yaxis("left", "tmp", 379, (-10, 0), [0, -2, -4, -6, -8, -10], tick=16, standoff=3)

xa = LinearAxis(fixed_location=1512, bounds=(750, 800), axis_label="Age (ka)",
                ticker=FixedTicker(ticks=age_ticks, minor_ticks=[t + 2.5 for t in age_ticks[:-1]]))
style_axis(xa, 16.5, 11, 5, standoff=6)
xa.axis_label_text_font = FONT
xa.axis_label_text_font_style = "bold"
xa.axis_label_text_font_size = "17.5px"
xa.axis_label_text_color = "black"
xa.axis_label_standoff = 5
p.add_layout(xa, "below")

# ------------------------------------------------------------------ frames and panel titles
box(388, 851, 9, 197)
box(388, 851, 205, 513)
box(388, 851, 520, 745)
box(388, 851, 752, 1298)
box(395, 844.5, 991, 1296)
box(388, 851, 1309, 1470)
title_box(388, 9, "Atlantique Nord")
title_box(388, 205, "Méditerranée")
title_box(388, 520, "Asie de l'Est")
title_box(388, 752, "Golfe du Bengale - Site IODP U1446")
title_box(395, 991, "Données polliniques")

# in-panel annotations
T(393, 116.7, "Site ODP 983", 10.5, style="bold")
T(393, 313, "Montalbano Jonico (Italie)", 10.5, style="bold")
T(496.5, 260, "I3", 16, style="bold", align="center")
T(540.5, 250, "I2", 16, style="bold", align="center")
T(588.5, 237, "I1", 16, style="bold", align="center")
T(711, 219, "Sapropèle", 10.5, style="bold", align="center")
T(446, 480, "Site ODP 976", 10.5, style="bold", align="center")
T(446, 497.7, "(Mer d'Alboran)", 10.5, style="bold", align="center")
T(511, 576.7, "I2", 16, style="bold", align="center")
T(581.5, 546.7, "I1", 16, style="bold", align="center")
T(397, 653.3, "Lac Baïkal (Sibérie)", 10.5, style="bold")
T(397, 730, "Section de Chiba (Japon)", 10.5, style="bold")
T(458.5, 1385, "AIM A", 14.5, style="bold", align="center")
T(526, 1376, "AIM B", 14.5, style="bold", align="center")
T(585, 1360, "AIM C", 14.5, style="bold", align="center")
T(496, 1456, "EPICA (Dome C)", 10.5, style="bold", align="center")

# ------------------------------------------------------------------ side labels
BLUE, RED, BROWN = "#3a6ea5", "#ff0000", "#a0703a"
B, C = 17.5, 16.5          # bold label size, citation size
T(317, 93, "IRD/g", 19, BLUE, "bold", "right")
T(317, 117.5, "Barker et al., 2019", C, GREY, "normal", "right")
T(916, 134.6, "% NPS", 19, RED, "bold")
T(916, 159.7, "Barker et al., 2019", C, GREY)

T(205, 232, "δ", 19, style="bold")
T(217, 222, "13", 11, style="bold")
T(231, 232, "C", 19, style="bold")
T(245, 239, "C. carinata", 12.5, style="bold italic")
T(318, 270, "(‰ VPDB)", 17.5, align="right")
T(322, 291.7, "Nomade et al., 2019", C, GREY, align="right")
T(126, 251.7, "Ventilation de la", 14, align="right")
T(126, 271.7, "colonne d'eau", 14, align="right")
p.add_layout(Arrow(x_start=132.7, y_start=264, x_end=132.7, y_end=212, x_range_name="px",
                   line_width=1.5, end=NormalHead(size=13, fill_color="black", line_color="black")))
p.add_layout(Arrow(x_start=132.7, y_start=264, x_end=132.7, y_end=316, x_range_name="px",
                   line_width=1.5, end=NormalHead(size=13, fill_color="black", line_color="black")))
T(132.7, 202, "+", 15, style="bold", align="center")
T(132.7, 330, "-", 15, style="bold", align="center")

T(908, 331.5, "δ", 19, style="bold")
T(920, 322, "18", 11, style="bold")
T(934, 331.5, "O", 19, style="bold")
T(951, 338.5, "C. carinata", 12.5, style="bold italic")
T(908, 363.7, "(‰ VPDB)", 17.5)
T(908, 387.8, "Nomade et al., 2019", C, GREY)

T(327.5, 424, "Steppe et", B, BROWN, "bold", "right")
T(333.5, 451, "semi-arides (%)", B, BROWN, "bold", "right")
T(333.5, 475, "Toti et al., 2020", C, GREY, align="right")

T(903, 573.6, "Silice biogène (%)", B, style="bold")
T(903, 596.7, "Prokopenko et al., 2006", C, GREY)
T(1125, 571.6, "Traceur de la productivité", 13)
T(1125, 590.7, "des diatomées, influencée", 13)
T(1125, 609.8, "par les températures", 13)
p.add_layout(Arrow(x_start=1118, y_start=590, x_end=1118, y_end=539, x_range_name="px",
                   line_width=1.5, end=NormalHead(size=13, fill_color="black", line_color="black")))
p.add_layout(Arrow(x_start=1118, y_start=590, x_end=1118, y_end=641, x_range_name="px",
                   line_width=1.5, end=NormalHead(size=13, fill_color="black", line_color="black")))
T(1118, 525.4, "+", 15, style="bold", align="center")
T(1118, 658, "-", 15, style="bold", align="center")
T(334.5, 673, "Ratio feuillus/AP (%)", B, style="bold", align="right")
T(334.5, 697, "Suganuma et al., 2018", C, GREY, align="right")

T(926, 832, "XRF Rb/Ca", B, style="bold")
T(926, 856, "Clemens et al., 2021", C, GREY)
T(171, 901, "δ", 19, style="bold")
T(183, 891, "13", 11, style="bold")
T(197, 901, "C", 19, style="bold")
T(211, 906, "n-alkanes", 18.5, style="bold")
T(323.5, 932, "(‰ VPDB)", 17.5, align="right")
T(321.5, 956, "McGrath et al., 2021", C, GREY, align="right")

T(288, 1055, "Forêt tropicale totale", B, "#6ea040", "bold", "right")
T(294, 1055, "(%)", B)
T(288, 1082, "Forêt sempervirente", B, "#1a6b1a", "bold", "right")
T(294, 1082, "(%)", B)
T(920, 1205.5, "Herbacées", B, "#f5c200", "bold")
T(1029, 1205.5, "(%)", B)
T(920, 1231.6, "Xérophytes", B, "#9a6a3a", "bold")
T(1039, 1231.6, "(%)", B)

T(324.5, 1372, "Anomalies de", B, style="bold", align="right")
T(324.5, 1399.5, "températures (°C)", B, style="bold", align="right")
T(323.5, 1422.5, "Jouzel et al., 2007", C, GREY, align="right")

open("out.html", "w").write(file_html(p, INLINE))
